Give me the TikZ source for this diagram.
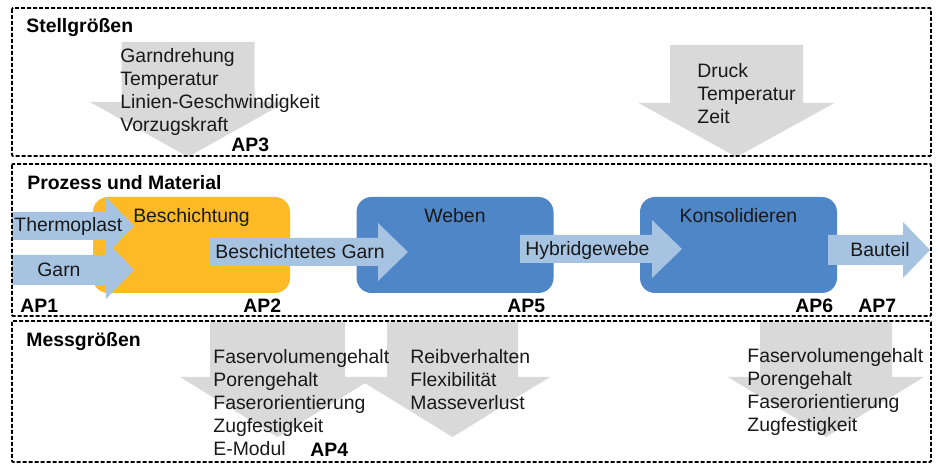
\documentclass[tikz,border=0pt]{standalone}
\usepackage{fontspec}
\setmainfont{Liberation Sans}
\usetikzlibrary{positioning}

\definecolor{grau}{RGB}{217,217,217}
\definecolor{hellblau}{RGB}{166,196,226}
\definecolor{blau}{RGB}{78,134,200}
\definecolor{gelb}{RGB}{252,187,38}

\tikzstyle{gruppe} = [draw=black, line width=0.9pt, dash pattern=on 2pt off 1pt, rounded corners=0.5pt]
\tikzstyle{prozess} = [rectangle, rounded corners=7.5pt, minimum width=98.5pt, minimum height=48pt]
\tikzstyle{txt} = [inner sep=0pt, anchor=west, align=left, text=black!90, font=\fontsize{9.7}{11.5}\selectfont]
\tikzstyle{titel} = [txt, text=black, font=\fontsize{9.7}{11.5}\selectfont\bfseries]

% block arrow to the right: start, head base, tip, middle, half shaft, half head
\newcommand{\pfeilrechts}[6]{\fill[hellblau] (#1,#4-#5) -- (#2,#4-#5) -- (#2,#4-#6) -- (#3,#4) -- (#2,#4+#6) -- (#2,#4+#5) -- (#1,#4+#5) -- cycle;}
% block arrow downwards: middle, half shaft, start, head base, half head, tip
\newcommand{\pfeilrunter}[6]{\fill[grau] (#1-#2,#3) -- (#1+#2,#3) -- (#1+#2,#4) -- (#1+#5,#4) -- (#1,#6) -- (#1-#5,#4) -- (#1-#2,#4) -- cycle;}

\begin{document}
\begin{tikzpicture}[x=0.5pt, y=-0.5pt]
\useasboundingbox (0,0) rectangle (938,464);

% Stellgroessen und Messgroessen
\pfeilrunter{188}{66.5}{42}{102}{98}{157}
\pfeilrunter{736.5}{66.5}{45}{103}{98}{157}
\pfeilrunter{277.5}{67.5}{322}{377}{97.5}{437}
\pfeilrunter{452.5}{65.5}{322}{377}{97.5}{437}
\pfeilrunter{826}{66}{322}{377}{98}{437}

% Prozesskette
\node (besch) [prozess, fill=gelb] at (191.5,245) {};
\node (weben) [prozess, fill=blau] at (455,245) {};
\node (kons) [prozess, fill=blau] at (738.5,245) {};
\node (beschtxt) [txt, below=5.5pt of besch.north] {Beschichtung};
\node (webentxt) [txt, below=5.5pt of weben.north] {Weben};
\node (konstxt) [txt, below=5.5pt of kons.north] {Konsolidieren};

\pfeilrechts{12}{106}{134}{226}{14}{29}
\pfeilrechts{12}{106}{134}{270}{15}{29}
\pfeilrechts{209}{378}{408}{252}{14}{29}
\pfeilrechts{520}{652}{682}{249}{14}{29}
\pfeilrechts{828}{903}{930}{250}{15}{28}

\node (thermo) [txt] at (14,226) {Thermoplast};
\node (garn) [txt] at (37,270) {Garn};
\node (bgarn) [txt] at (215,252) {Beschichtetes Garn};
\node (hybrid) [txt] at (525,250) {Hybridgewebe};
\node (bauteil) [txt] at (850,250) {Bauteil};

% Texte
\node (stell) [titel] at (26,28) {Stellgrößen};
\node (prozmat) [titel] at (27,183) {Prozess und Material};
\node (mess) [titel] at (26,342) {Messgrößen};

\node (stellgarn) [txt] at (120,91.5) {Garndrehung\\Temperatur\\Linien-Geschwindigkeit\\Vorzugskraft};
\node (stellkons) [txt] at (697,93.5) {Druck\\Temperatur\\Zeit};
\node (messgarn) [txt] at (213,403) {Faservolumengehalt\\Porengehalt\\Faserorientierung\\Zugfestigkeit\\E-Modul};
\node (messgewebe) [txt] at (410,380) {Reibverhalten\\Flexibilität\\Masseverlust};
\node (messbauteil) [txt] at (747,391.5) {Faservolumengehalt\\Porengehalt\\Faserorientierung\\Zugfestigkeit};

\node (ap1) [titel] at (20,306) {AP1};
\node (ap2) [titel] at (243,306) {AP2};
\node (ap3) [titel] at (231,145) {AP3};
\node (ap4) [titel] at (310,450) {AP4};
\node (ap5) [titel] at (507,306) {AP5};
\node (ap6) [titel] at (795,306) {AP6};
\node (ap7) [titel] at (858,306) {AP7};

% Rahmen
\draw[gruppe] (12,8) rectangle (931,156);
\draw[gruppe] (12,164) rectangle (931,316);
\draw[gruppe] (12,321) rectangle (931,462);
\end{tikzpicture}
\end{document}
